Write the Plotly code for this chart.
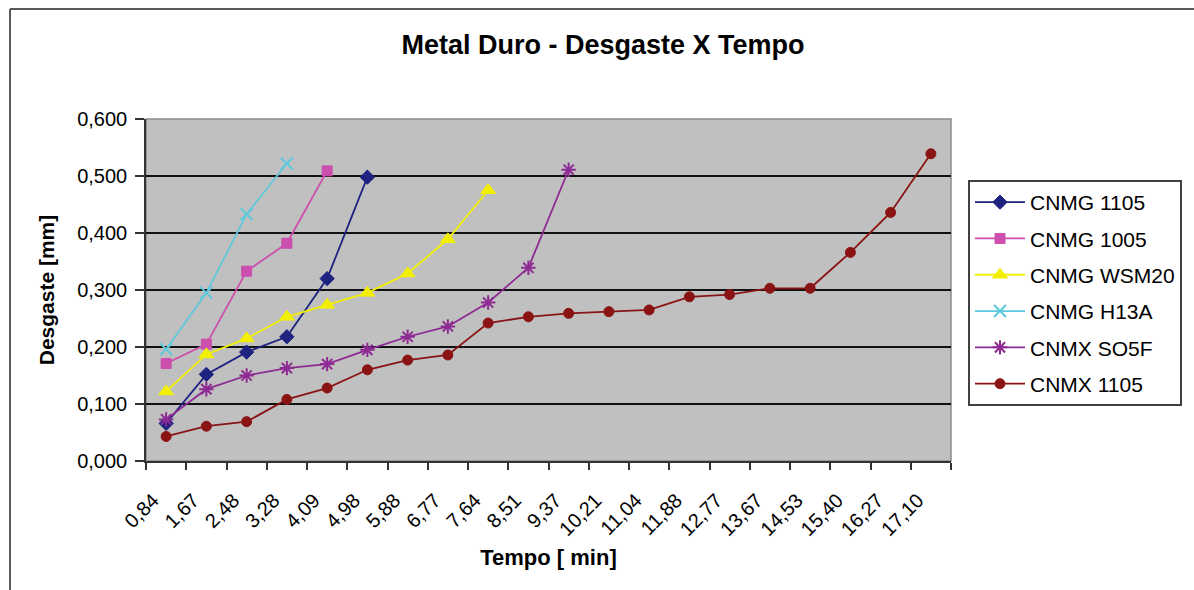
import plotly.graph_objects as go

# Tempo [min] categories along the x axis
tempo = ["0,84", "1,67", "2,48", "3,28", "4,09", "4,98", "5,88", "6,77", "7,64", "8,51",
         "9,37", "10,21", "11,04", "11,88", "12,77", "13,67", "14,53", "15,40", "16,27", "17,10"]

# Desgaste [mm] for each insert
cnmg_1105 = [0.066, 0.152, 0.191, 0.218, 0.320, 0.498]
cnmg_1005 = [0.171, 0.205, 0.333, 0.382, 0.509]
cnmg_wsm20 = [0.122, 0.187, 0.215, 0.253, 0.274, 0.295, 0.329, 0.389, 0.475]
cnmg_h13a = [0.196, 0.295, 0.433, 0.522]
cnmx_so5f = [0.073, 0.126, 0.150, 0.163, 0.170, 0.195, 0.218, 0.236, 0.278, 0.339, 0.511]
cnmx_1105 = [0.043, 0.061, 0.069, 0.108, 0.128, 0.160, 0.177, 0.186, 0.242, 0.253,
             0.259, 0.262, 0.265, 0.288, 0.292, 0.303, 0.303, 0.366, 0.436, 0.539]

y_ticks = [0.0, 0.1, 0.2, 0.3, 0.4, 0.5, 0.6]

series = [
    ("CNMG 1105", cnmg_1105, "#1f2380", "diamond", 11, 1),
    ("CNMG 1005", cnmg_1005, "#cc4fae", "square", 10, 1),
    ("CNMG WSM20", cnmg_wsm20, "#f2ef00", "triangle-up", 13, 1),
    ("CNMG H13A", cnmg_h13a, "#5fc8dc", "x-thin-open", 12, 2),
    ("CNMX SO5F", cnmx_so5f, "#8e2a93", "asterisk-open", 12, 2),
    ("CNMX 1105", cnmx_1105, "#8a1414", "circle", 10, 1),
]

FONT = "Liberation Sans, Arial, sans-serif"

fig = go.Figure()
for name, vals, color, symbol, size, mlw in series:
    fig.add_trace(go.Scatter(
        x=tempo[:len(vals)], y=vals, name=name, mode="lines+markers",
        legendgroup=name,
        line=dict(color=color, width=1.8),
        marker=dict(symbol=symbol, size=size, color=color,
                    line=dict(color=color, width=mlw)),
    ))

# page frame along the top and left edges
W, H = 1194, 590
L, R, T, B = 146, 951, 119, 461
px = lambda v: (v - L) / (R - L)
py = lambda v: (B - v) / (B - T)
frame = dict(color="#5a5a5a", width=2)
fig.add_shape(type="line", xref="paper", yref="paper",
              x0=px(10), x1=px(1300), y0=py(9), y1=py(9), line=frame)
fig.add_shape(type="line", xref="paper", yref="paper",
              x0=px(10), x1=px(10), y0=py(9), y1=py(700), line=frame)
# plot area outline
fig.add_shape(type="rect", xref="paper", yref="paper", x0=0, x1=1, y0=0, y1=1,
              line=dict(color="#8a8a8a", width=1.5), layer="below")

fig.update_layout(
    width=W, height=H,
    margin=dict(l=L, r=W - R, t=T, b=H - B, autoexpand=False),
    paper_bgcolor="white",
    plot_bgcolor="#c0c0c0",
    separators=",.",
    font=dict(family=FONT, color="black", size=20),
    title=dict(text="<b>Metal Duro - Desgaste X Tempo</b>",
               font=dict(family=FONT, size=27, color="black"),
               x=603 / W, xref="container", xanchor="center",
               y=1 - 45 / H, yref="container", yanchor="middle"),
    showlegend=True,
    legend=dict(
        x=px(968), y=py(180), xanchor="left", yanchor="top",
        bgcolor="white", bordercolor="#404040", borderwidth=2,
        font=dict(family=FONT, size=21, color="black"),
        tracegroupgap=6, itemwidth=50,
    ),
    xaxis=dict(
        type="category", categoryorder="array", categoryarray=tempo,
        range=[-0.5, len(tempo) - 0.5],
        tickson="boundaries", ticks="outside", ticklen=7, tickwidth=1.5,
        tickcolor="#333333", showgrid=False,
        showline=True, linecolor="#333333", linewidth=1.5,
        tickangle=-45, tickfont=dict(size=20),
        ticklabelstandoff=18, ticklabelshift=-13,
        title=dict(text="<b>Tempo [ min]</b>", font=dict(size=22), standoff=11),
    ),
    yaxis=dict(
        range=[0, 0.6], tickvals=y_ticks, tickformat=".3f",
        ticks="outside", ticklen=9, tickwidth=1.5, tickcolor="#333333",
        showgrid=True, gridcolor="#111111", gridwidth=1.5,
        showline=True, linecolor="#333333", linewidth=1.5,
        zeroline=False,
        tickfont=dict(size=20), ticklabelstandoff=4,
        title=dict(text="<b>Desgaste [mm]</b>", font=dict(size=21), standoff=17),
    ),
)

fig.write_html("out.html")
